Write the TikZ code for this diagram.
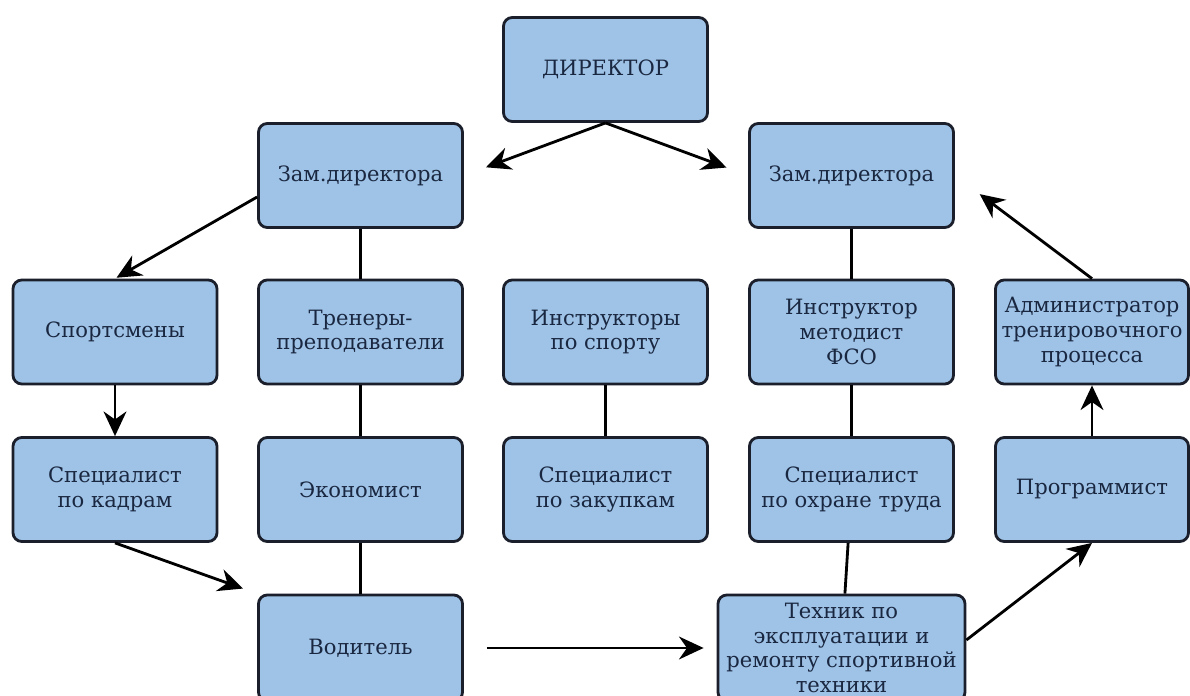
\documentclass[tikz,border=0pt]{standalone}
\usepackage{fontspec}
\setmainfont{DejaVu Serif}
\usetikzlibrary{arrows.meta}
\definecolor{boxfill}{HTML}{9FC3E7}
\definecolor{boxline}{HTML}{1A1F2B}
\definecolor{boxtext}{HTML}{1A2740}
\tikzset{
  unit/.style={draw=boxline,fill=boxfill,line width=1.6pt,rounded corners=5pt,
    minimum width=4.08cm,minimum height=2.08cm,align=center,text=boxtext,
    font=\fontsize{12}{14}\selectfont,inner sep=2pt},
  link/.style={line width=1.6pt},
  arr/.style={line width=1.6pt,-{Stealth[length=14pt,width=13pt]}}
}
\begin{document}
\begin{tikzpicture}
    \fill[white] (0,0) rectangle (23.8,13.9);
    \useasboundingbox (0,0) rectangle (23.8,13.9);
    % top
    \node[unit] (dir) at (12.11,12.51) {ДИРЕКТОР};
    \node[unit] (zl) at (7.21,10.39) {Зам.директора};
    \node[unit] (zr) at (17.03,10.39) {Зам.директора};
    % second row
    \node[unit] (sport) at (2.30,7.26) {Спортсмены};
    \node[unit] (tren) at (7.21,7.26) {Тренеры-\\преподаватели};
    \node[unit] (instr) at (12.11,7.26) {Инструкторы\\по спорту};
    \node[unit] (metod) at (17.03,7.26) {Инструктор\\методист\\ФСО};
    \node[unit,minimum width=3.86cm] (admin) at (21.84,7.26) {Администратор\\тренировочного\\процесса};
    % third row
    \node[unit] (kadr) at (2.30,4.11) {Специалист\\по кадрам};
    \node[unit] (econ) at (7.21,4.11) {Экономист};
    \node[unit] (zakup) at (12.11,4.11) {Специалист\\по закупкам};
    \node[unit] (ohrana) at (17.03,4.11) {Специалист\\по охране труда};
    \node[unit,minimum width=3.86cm] (prog) at (21.84,4.11) {Программист};
    % bottom
    \node[unit,minimum height=2.12cm] (vod) at (7.21,0.94) {Водитель};
    \node[unit,minimum width=4.94cm,minimum height=2.12cm] (tech) at (16.83,0.94) {Техник по\\эксплуатации и\\ремонту спортивной\\техники};

    \draw[arr,shorten >=0.47cm] (dir.south) -- (zl.east);
    \draw[arr,shorten >=0.46cm] (dir.south) -- (zr.west);
    \draw[arr,shorten >=1pt] ([yshift=-0.43cm]zl.west) -- (sport.north);
    \draw[arr] (sport) -- (kadr);
    \draw[arr,shorten >=0.3cm] (kadr.south) -- (vod.north west);
    \draw[arr,shorten <=0.46cm,shorten >=0.26cm] (vod) -- (tech);
    \draw[arr] ([yshift=0.16cm]tech.east) -- (prog.south);
    \draw[arr] (prog) -- (admin);
    \draw[arr,shorten >=0.62cm] (admin.north) -- (zr.east);

    \draw[link] (zl) -- (tren);
    \draw[link] (tren) -- (econ);
    \draw[link] (econ) -- (vod);
    \draw[link] (instr) -- (zakup);
    \draw[link] (zr) -- (metod);
    \draw[link] (metod) -- (ohrana);
    \draw[link] (ohrana) -- (tech);
\end{tikzpicture}
\end{document}
